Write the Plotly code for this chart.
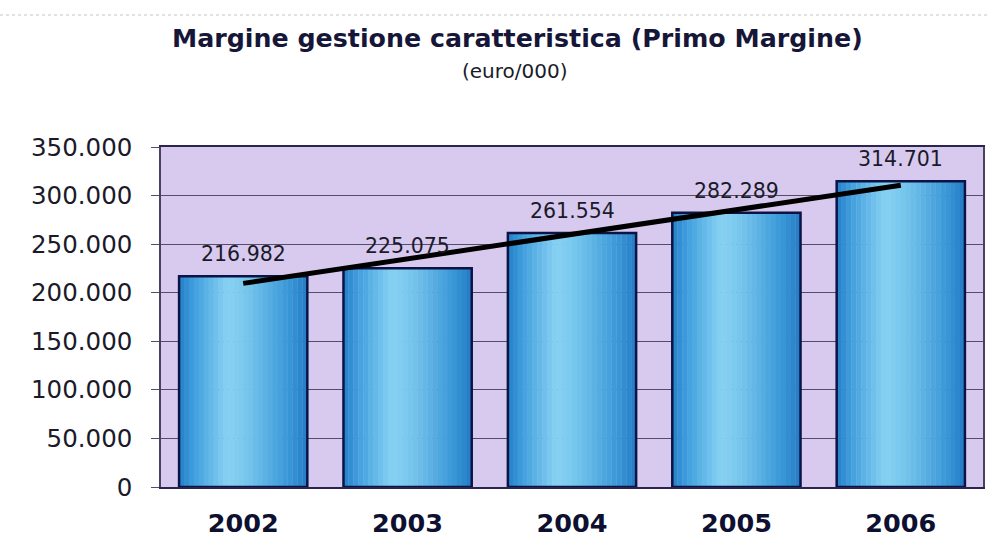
import numpy as np
import plotly.graph_objects as go

years = ["2002", "2003", "2004", "2005", "2006"]
values = [216982, 225075, 261554, 282289, 314701]
y_ticks = [0, 50000, 100000, 150000, 200000, 250000, 300000, 350000]

title = "Margine gestione caratteristica (Primo Margine)"
subtitle = "(euro/000)"

# linear trend line (least squares over year index)
idx = np.arange(len(values))
slope, intercept = np.polyfit(idx, values, 1)
trend = slope * idx + intercept

fig = go.Figure()

# bars drawn as narrow vertical slices to give the cylinder-like shading
bar_w = 0.78
n_slices = 26
profile = [
    (0.00, (36, 128, 200)),
    (0.12, (66, 160, 222)),
    (0.38, (135, 210, 243)),
    (0.55, (115, 196, 236)),
    (0.85, (58, 152, 216)),
    (1.00, (36, 124, 196)),
]


def shade(t):
    for (t0, c0), (t1, c1) in zip(profile[:-1], profile[1:]):
        if t0 <= t <= t1:
            f = (t - t0) / (t1 - t0)
            c = [round(a + (b - a) * f) for a, b in zip(c0, c1)]
            return "rgb({},{},{})".format(*c)
    return "rgb({},{},{})".format(*profile[-1][1])


slice_w = bar_w / n_slices
for i in range(n_slices):
    t = (i + 0.5) / n_slices
    fig.add_trace(go.Bar(
        x=years, y=values,
        width=slice_w * 1.05,
        offset=-bar_w / 2 + i * slice_w,
        marker=dict(color=shade(t), line=dict(width=0)),
        hoverinfo="skip", showlegend=False,
    ))

# bar outlines
fig.add_trace(go.Bar(
    x=years, y=values, width=bar_w,
    marker=dict(color="rgba(0,0,0,0)", line=dict(color="#0b1445", width=2.5)),
    hoverinfo="skip", showlegend=False,
))

fig.add_trace(go.Scatter(
    x=years, y=trend, mode="lines",
    line=dict(color="#000000", width=5),
    hoverinfo="skip", showlegend=False,
))

plot_h = 540 - 147 - 53
plot_w = 988 - 161 - 5

annotations = [
    dict(text="<b>" + title + "</b>", x=(517 - 161) / plot_w, y=(487 - 38) / plot_h,
         xref="paper", yref="paper", xanchor="center", yanchor="middle",
         showarrow=False, font=dict(size=25.3, color="#161638")),
    dict(text=subtitle, x=(515 - 161) / plot_w, y=(487 - 71) / plot_h,
         xref="paper", yref="paper", xanchor="center", yanchor="middle",
         showarrow=False, font=dict(size=20, color="#1a1a2a")),
]
# value labels above each bar
for i, v in enumerate(values):
    annotations.append(dict(
        x=i, y=v, xref="x", yref="y", text=f"{v:,}".replace(",", "."),
        showarrow=False, yanchor="middle", yshift=22,
        font=dict(size=20.5, color="#1a1a2a"),
    ))

fig.update_layout(
    width=988, height=540,
    margin=dict(l=161, r=5, t=147, b=53),
    paper_bgcolor="white",
    plot_bgcolor="#d8caee",
    barmode="overlay",
    separators=",.",
    font=dict(family="DejaVu Sans", color="#1a1a2a"),
    annotations=annotations,
    shapes=[
        # faint dotted rule across the top of the page
        dict(type="line", xref="paper", yref="paper",
             x0=-161 / plot_w, x1=(988 - 161) / plot_w,
             y0=(487 - 15) / plot_h, y1=(487 - 15) / plot_h,
             line=dict(color="#c4c4c8", width=1, dash="dot")),
    ],
)

fig.update_yaxes(
    range=[0, 350000], tickvals=y_ticks, tickformat=",d",
    tickfont=dict(size=24.5, color="#1a1a2a"),
    showgrid=True, gridcolor="#574b6c", gridwidth=1,
    ticks="outside", ticklen=8, tickcolor="#574b6c",
    ticklabelstandoff=14,
    showline=True, linecolor="#4a4060", linewidth=1.5, mirror=True,
    zeroline=False, automargin=False,
)
fig.update_xaxes(
    type="category", range=[-0.5, len(years) - 0.5],
    tickfont=dict(size=25.5, color="#0d1030", family="DejaVu Sans"),
    tickprefix="<b>", ticksuffix="</b>",
    showline=True, linecolor="#2a2450", linewidth=2, mirror=True,
    ticks="", ticklabelstandoff=12, automargin=False,
)

fig.write_html("out.html")
